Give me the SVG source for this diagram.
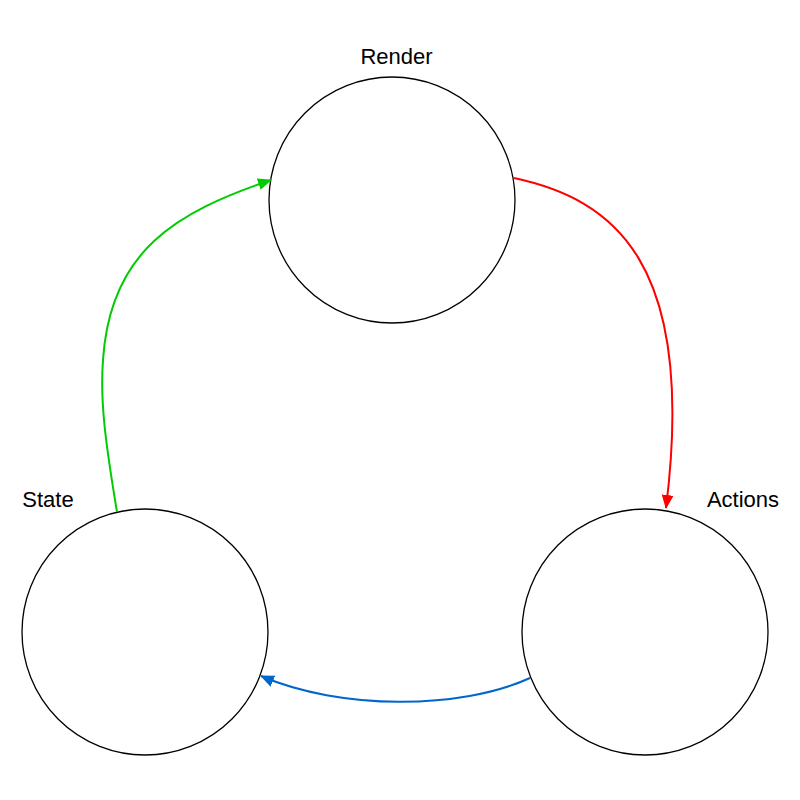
<svg xmlns="http://www.w3.org/2000/svg" width="800" height="800" viewBox="0 0 800 800">
<style>
.node{fill:#fff;stroke:#000;stroke-width:1.3}
.lbl{font-family:"Liberation Sans",Arial,sans-serif;font-size:22px;fill:#000;text-anchor:middle}
.edge{fill:none;stroke-width:2}
</style>
<defs>
<marker id="ag" viewBox="0 0 14 12" refX="13" refY="6" markerWidth="14" markerHeight="12" markerUnits="userSpaceOnUse" orient="auto"><path d="M0,0 L14,6 L0,12 Z" fill="#00CC00"/></marker>
<marker id="ar" viewBox="0 0 14 12" refX="13" refY="6" markerWidth="14" markerHeight="12" markerUnits="userSpaceOnUse" orient="auto"><path d="M0,0 L14,6 L0,12 Z" fill="#FF0000"/></marker>
<marker id="ab" viewBox="0 0 14 12" refX="13" refY="6" markerWidth="14" markerHeight="12" markerUnits="userSpaceOnUse" orient="auto"><path d="M0,0 L14,6 L0,12 Z" fill="#0066CC"/></marker>
</defs>
<rect width="800" height="800" fill="#fff"/>
<g id="render"><circle class="node" cx="392" cy="200" r="123"/><text class="lbl" x="396.5" y="64">Render</text></g>
<g id="state"><circle class="node" cx="145" cy="632" r="123"/><text class="lbl" x="48" y="507">State</text></g>
<g id="actions"><circle class="node" cx="645" cy="632" r="123"/><text class="lbl" x="743" y="507">Actions</text></g>
<g id="connectors">
<path class="edge" stroke="#00CC00" d="M117,512 C105,440 100,400 103,360 C110,250 177,212 271,180" marker-end="url(#ag)"/>
<path class="edge" stroke="#FF0000" d="M514,178 C612,199 697,260 666,508" marker-end="url(#ar)"/>
<path class="edge" stroke="#0066CC" d="M530,678 C460,710 340,710 261,676" marker-end="url(#ab)"/>
</g>
</svg>
